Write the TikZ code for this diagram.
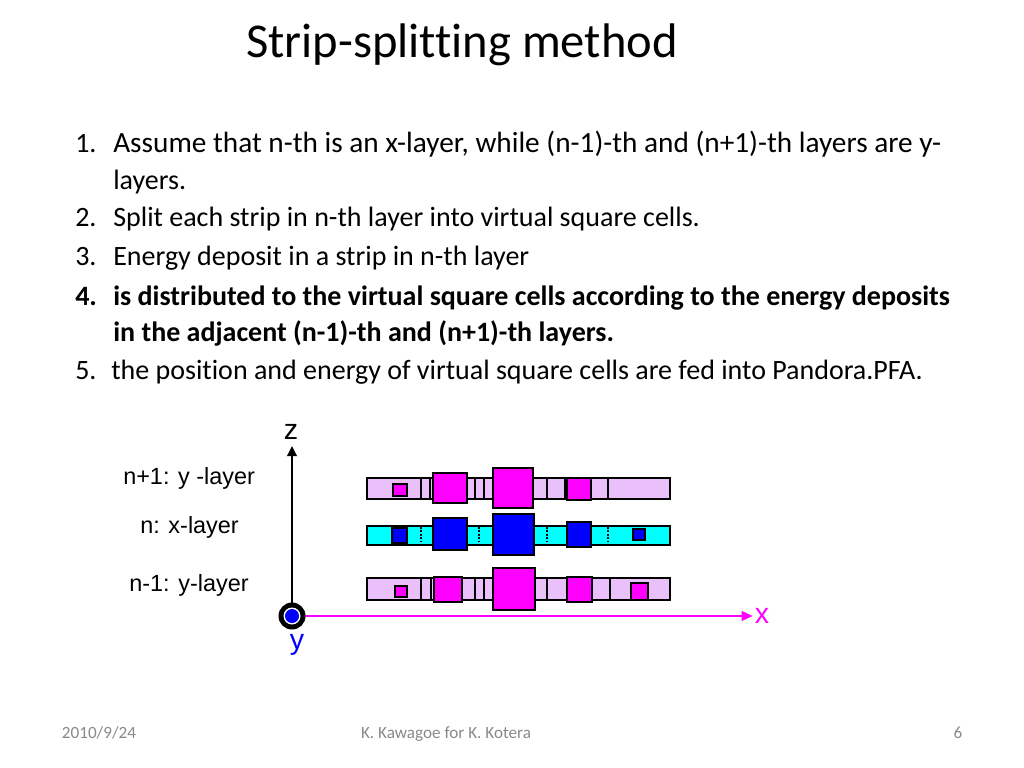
\documentclass[tikz,border=0pt]{standalone}
\usepackage{fontspec}
\setmainfont{Carlito}[Ligatures=NoCommon]
\newfontfamily\arialfont{Liberation Sans}
\usetikzlibrary{arrows.meta, positioning}
\definecolor{lilac}{RGB}{234,192,250}
\definecolor{hotmag}{RGB}{255,0,255}
\definecolor{aqua}{RGB}{0,255,255}
\definecolor{deepblue}{RGB}{0,0,255}
\definecolor{footgray}{RGB}{137,137,137}

\begin{document}
\begin{tikzpicture}[
    x=0.7pt, y=-0.7pt,
    txt/.style={anchor=base west, inner sep=0pt, font=\fontsize{19.6}{24}\selectfont},
    foot/.style={anchor=base, inner sep=0pt, color=footgray, font=\fontsize{12}{14}\selectfont},
    layerlabel/.style={anchor=base west, inner sep=0pt, font=\arialfont\fontsize{16.4}{19}\selectfont},
    axislabel/.style={inner sep=0pt, font=\arialfont\fontsize{20}{24}\selectfont},
    strip/.style={draw=black, line width=2pt},
    cell/.style={draw=black, line width=2pt},
    sep/.style={draw=black, line width=1.4pt},
    dsep/.style={draw=black, line width=1pt, dash pattern=on 1.2pt off 1.2pt}
]
    \useasboundingbox (0,0) rectangle (1024,768);

    % title and list
    \node[anchor=base, inner sep=0pt, font=\fontsize{34}{40}\selectfont] (title) at (462,57) {Strip-splitting method};

    \node[txt] (num1) at (75,152) {1.};
    \node[txt, font=\fontsize{20.5}{24}\selectfont] (item1) at (113,152) {Assume that n-th is an x-layer, while (n-1)-th and (n+1)-th layers are y-};
    \node[txt] (item1b) at (113,189) {layers.};
    \node[txt] (num2) at (75,226) {2.};
    \node[txt] (item2) at (113,226) {Split each strip in n-th layer into virtual square cells.};
    \node[txt] (num3) at (75,265) {3.};
    \node[txt] (item3) at (113,265) {Energy deposit in a strip in n-th layer};
    \node[txt, font=\fontsize{19.6}{24}\selectfont\bfseries] (num4) at (75,305) {4.};
    \node[txt, font=\fontsize{19.6}{24}\selectfont\bfseries] (item4) at (113,305) {is distributed to the virtual square cells according to the energy deposits};
    \node[txt, font=\fontsize{19.6}{24}\selectfont\bfseries] (item4b) at (113,341) {in the adjacent (n-1)-th and (n+1)-th layers.};
    \node[txt] (num5) at (75,379) {5.};
    \node[txt] (item5) at (111,379) {the position and energy of virtual square cells are fed into Pandora.PFA.};

    % layer labels
    \node[layerlabel] (lblup) at (123,484) {n+1: y -layer};
    \node[layerlabel] (lblmid) at (140,533) {n: x-layer};
    \node[layerlabel] (lbldown) at (129,591) {n-1: y-layer};

    % n+1 strip
    \draw[strip, fill=lilac] (367,478) rectangle (670,499);
    \foreach \sx in {421,430,475,484,547,565,608}
        \draw[sep] (\sx,478) -- (\sx,499);
    \foreach \xa/\ya/\xb/\yb in {393/484/407/496, 433/473/467/503, 493/468/533/508, 567/478/591/500}
        \draw[cell, fill=hotmag] (\xa,\ya) rectangle (\xb,\yb);

    % n strip
    \draw[strip, fill=aqua] (367,526) rectangle (670,545);
    \foreach \sx in {421,479,547,608}
        \draw[dsep] (\sx,527) -- (\sx,544);
    \foreach \xa/\ya/\xb/\yb in {392/528/407/543, 433/518/467/550, 493/514/534/555, 567/522/591/547, 633/529/645/540}
        \draw[cell, fill=deepblue] (\xa,\ya) rectangle (\xb,\yb);

    % n-1 strip
    \draw[strip, fill=lilac] (367,578) rectangle (670,600);
    \foreach \sx in {421,431,475,484,547,610}
        \draw[sep] (\sx,578) -- (\sx,600);
    \foreach \xa/\ya/\xb/\yb in {395/586/407/597, 434/577/462/602, 493/568/535/610, 567/577/592/602, 631/583/648/600}
        \draw[cell, fill=hotmag] (\xa,\ya) rectangle (\xb,\yb);

    % axes
    \coordinate (origin) at (292,616);
    \coordinate (ztip) at (292,446);
    \coordinate (xtip) at (753,616);
    \draw[line width=2pt, -{Triangle[length=7pt, width=6.5pt]}] (origin) -- (ztip);
    \draw[hotmag, line width=2pt, -{Triangle[length=8pt, width=6.5pt]}] (origin) -- (xtip);
    \fill[black] (origin) circle[radius=13.5];
    \fill[white] (origin) circle[radius=8.5];
    \fill[deepblue] (origin) circle[radius=7];
    \node[axislabel] (zlbl) at (291,432) {z};
    \node[axislabel, color=hotmag] (xlbl) at (762,616) {x};
    \node[axislabel, color=deepblue] (ylbl) at (297,645) {y};

    % footer
    \node[foot] (date) at (99,738) {2010/9/24};
    \node[foot] (author) at (446,738) {K. Kawagoe for K. Kotera};
    \node[foot] (page) at (958,738) {6};
\end{tikzpicture}
\end{document}
